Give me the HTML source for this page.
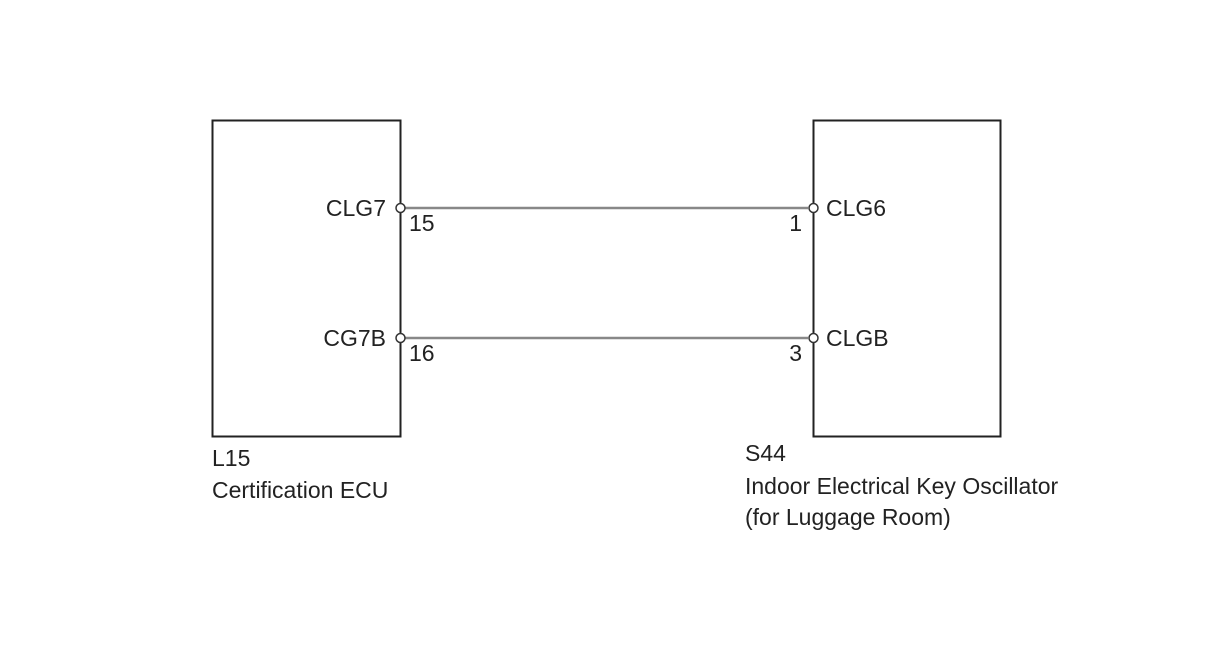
<!DOCTYPE html>
<html><head><style>
body{margin:0;background:#fff;width:1208px;height:644px;overflow:hidden}
text{font-family:"Liberation Sans",sans-serif;font-size:23px;fill:#222}
</style></head><body>
<svg width="1208" height="644" xmlns="http://www.w3.org/2000/svg">
<rect x="212.5" y="120.5" width="188" height="316" fill="none" stroke="#222" stroke-width="2"/>
<rect x="813.5" y="120.5" width="187" height="316" fill="none" stroke="#222" stroke-width="2"/>
<line x1="405" y1="208" x2="808" y2="208" stroke="#888" stroke-width="2.5"/>
<line x1="405" y1="338" x2="808" y2="338" stroke="#888" stroke-width="2.5"/>
<circle cx="400.5" cy="208" r="4.5" fill="#fff" stroke="#333" stroke-width="1.5"/>
<circle cx="400.5" cy="338" r="4.5" fill="#fff" stroke="#333" stroke-width="1.5"/>
<circle cx="813.5" cy="208" r="4.5" fill="#fff" stroke="#333" stroke-width="1.5"/>
<circle cx="813.5" cy="338" r="4.5" fill="#fff" stroke="#333" stroke-width="1.5"/>
<text x="386" y="216" text-anchor="end">CLG7</text>
<text x="386" y="346" text-anchor="end">CG7B</text>
<text x="409" y="231">15</text>
<text x="409" y="361">16</text>
<text x="826" y="216">CLG6</text>
<text x="826" y="346">CLGB</text>
<text x="802" y="231" text-anchor="end">1</text>
<text x="802" y="361" text-anchor="end">3</text>
<text x="212" y="466">L15</text>
<text x="212" y="498">Certification ECU</text>
<text x="745" y="461">S44</text>
<text x="745" y="494">Indoor Electrical Key Oscillator</text>
<text x="745" y="525">(for Luggage Room)</text>
</svg>
</body></html>
